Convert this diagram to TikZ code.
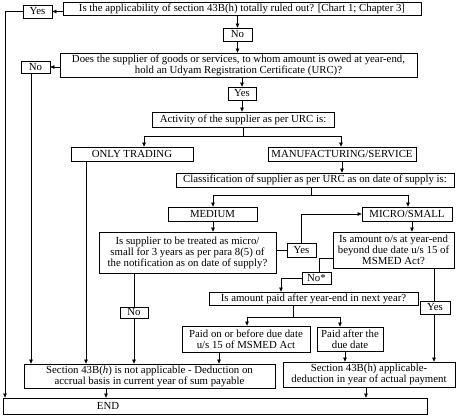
\documentclass[tikz,border=0pt]{standalone}
\usepackage{fontspec}
\setmainfont{Liberation Serif}
\usetikzlibrary{arrows.meta}
\begin{document}
\begin{tikzpicture}[x=1pt,y=-1pt,
  box/.style={draw, line width=0.8pt, inner sep=0pt, align=center,
    font=\fontsize{10.8}{11}\selectfont},
  arr/.style={line width=0.8pt, -{Triangle[length=4pt,width=3.6pt]}},
  ln/.style={line width=0.8pt}]
\useasboundingbox (0,0) rectangle (456,417);
% nodes
\node[box, minimum width=358, minimum height=13] (q1) at (242,9) {Is the applicability of section 43B(h) totally ruled out? [Chart 1; Chapter 3]};
\node[box, minimum width=29, minimum height=13] (yes1) at (37.5,11.5) {Yes};
\node[box, minimum width=29, minimum height=13] (no1) at (237.5,34.5) {No};
\node[box, minimum width=357, minimum height=24] (q2) at (238.5,65) {Does the supplier of goods or services, to whom amount is owed at year-end,\\ hold an Udyam Registration Certificate (URC)?};
\node[box, minimum width=29, minimum height=12] (no2) at (35.5,67) {No};
\node[box, minimum width=28, minimum height=13] (yes2) at (242,93.5) {Yes};
\node[box, minimum width=182, minimum height=15] (act) at (243,119.5) {Activity of the supplier as per URC is:};
\node[box, minimum width=122, minimum height=14] (trade) at (132,154) {ONLY TRADING};
\node[box, minimum width=148, minimum height=14] (manu) at (342,154) {MANUFACTURING/SERVICE};
\node[box, minimum width=278, minimum height=14] (cls) at (315,180) {Classification of supplier as per URC as on date of supply is:};
\node[box, minimum width=89, minimum height=14] (med) at (212.5,214) {MEDIUM};
\node[box, minimum width=90, minimum height=14] (micro) at (407,214) {MICRO/SMALL};
\node[box, minimum width=177, minimum height=41] (mq) at (187.5,252.5) {Is supplier to be treated as micro/\\ small for 3 years as per para 8(5) of\\ the notification as on date of supply?};
\node[box, minimum width=29, minimum height=14] (yes3) at (301.5,250) {Yes};
\node[box, minimum width=121, minimum height=36] (microq) at (393.5,250) {Is amount o/s at year-end\\ beyond due date u/s 15 of\\ MSMED Act?};
\node[box, minimum width=29, minimum height=12] (nostar) at (316.5,278) {No*};
\node[box, minimum width=209, minimum height=13] (paidq) at (313.5,298.5) {Is amount paid after year-end in next year?};
\node[box, minimum width=28, minimum height=11] (no3) at (134,312.5) {No};
\node[box, minimum width=30, minimum height=13] (yes4) at (435,307.5) {Yes};
\node[box, minimum width=128, minimum height=26] (before) at (246,339) {Paid on or before due date\\ u/s 15 of MSMED Act};
\node[box, minimum width=66, minimum height=24] (after) at (350,339) {Paid after the\\ due date};
\node[box, minimum width=251, minimum height=24] (na) at (149.5,376) {Section 43B(\textit{h}) is not applicable - Deduction on\\ accrual basis in current year of sum payable};
\node[box, minimum width=172, minimum height=25] (app) at (369,374.5) {Section 43B(h) applicable-\\ deduction in year of actual payment};
\node[box, minimum width=424, minimum height=16, text width=424, align=left] (end) at (215,406) {\hspace*{94pt}END};
% helper columns
\coordinate (Lx) at (5,0);
\coordinate (Nx) at (31,0);
\coordinate (Tx) at (86,0);
\coordinate (Ex1) at (106,0);
\coordinate (Ex2) at (366,0);
\coordinate (NOx) at (134,0);
\coordinate (Bx) at (219,0);
\coordinate (Ax) at (345,0);
\coordinate (Yx) at (434,0);
\coordinate (Mx) at (342,0);
\coordinate (MEx) at (213,0);
\coordinate (MIx) at (412,0);
\coordinate (b1) at (243,136);
\coordinate (T1) at (144,136);
\coordinate (M1) at (341,136);
\coordinate (b2) at (311,195);
\coordinate (D1) at (213,195);
\coordinate (D2) at (408,195);
\coordinate (c1) at (319,258);
\coordinate (c2) at (281,278);
\coordinate (b3) at (293,317);
\coordinate (P1) at (247,317);
\coordinate (P2) at (340,317);
% connectors
\draw[arr] (q1.west |- yes1) -- (yes1.east);
\draw[arr] (yes1.west) -| (end.north -| Lx);
\draw[arr] (q1.south -| no1) -- (no1.north);
\draw[arr] (no1.south) -- (q2.north -| no1);
\draw[arr] (q2.west |- no2) -- (no2.east);
\draw[arr] (no2.south -| Nx) -- (na.north -| Nx);
\draw[arr] (q2.south -| yes2) -- (yes2.north);
\draw[arr] (yes2.south) -- (act.north -| yes2);
\draw[ln] (act.south -| b1) -- (b1);
\draw[ln] (T1) -- (M1);
\draw[arr] (T1) -- (trade.north -| T1);
\draw[arr] (M1) -- (manu.north -| M1);
\draw[arr] (trade.south -| Tx) -- (na.north -| Tx);
\draw[arr] (manu.south -| Mx) -- (cls.north -| Mx);
\draw[ln] (cls.south -| b2) -- (b2);
\draw[ln] (D1) -- (D2);
\draw[arr] (D1) -- (med.north -| D1);
\draw[arr] (D2) -- (micro.north -| D2);
\draw[arr] (med.south -| MEx) -- (mq.north -| MEx);
\draw[ln] (mq.east |- yes3) -- (yes3.west);
\draw[arr] (yes3.north) |- (micro.west);
\draw[arr] (micro.south -| MIx) -- (microq.north -| MIx);
\draw[ln] (microq.west |- c1) -- (c1) -- (nostar.north -| c1);
\draw[ln] (nostar.west) -- (c2);
\draw[arr] (c2) -- (paidq.north -| c2);
\draw[ln] (paidq.south -| b3) -- (b3);
\draw[ln] (P1) -- (P2);
\draw[arr] (P1) -- (before.north -| P1);
\draw[arr] (P2) -- (after.north -| P2);
\draw[ln] (mq.south -| NOx) -- (no3.north -| NOx);
\draw[arr] (no3.south -| NOx) -- (na.north -| NOx);
\draw[arr] (before.south -| Bx) -- (na.north -| Bx);
\draw[arr] (after.south -| Ax) -- (app.north -| Ax);
\draw[ln] (microq.south -| Yx) -- (yes4.north -| Yx);
\draw[arr] (yes4.south -| Yx) -- (app.north -| Yx);
\draw[arr] (na.south -| Ex1) -- (end.north -| Ex1);
\draw[arr] (app.south -| Ex2) -- (end.north -| Ex2);
\end{tikzpicture}
\end{document}
